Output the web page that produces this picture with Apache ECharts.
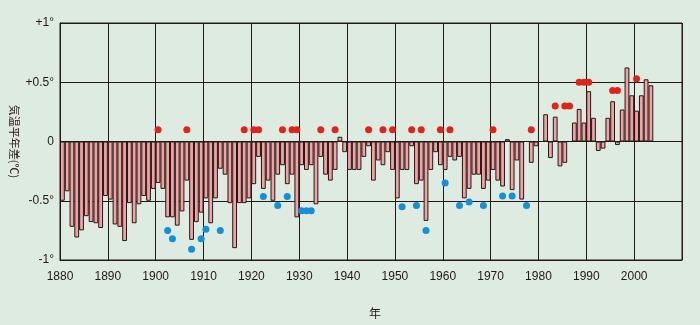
<!DOCTYPE html>
<html>
<head>
<meta charset="utf-8">
<script src="https://cdn.jsdelivr.net/npm/echarts@6/dist/echarts.min.js"></script>
<style>
html,body{margin:0;padding:0;background:#deebe1;}
#chart{width:700px;height:325px;}
</style>
</head>
<body>
<div id="chart"></div>
<script>
// ---- data ----
var startYear = 1880;
var endYear = 2010;
var anomalies = [
 -0.50,-0.42,-0.72,-0.81,-0.75,-0.63,-0.68,-0.69,-0.73,-0.46,
 -0.49,-0.70,-0.72,-0.84,-0.52,-0.69,-0.53,-0.46,-0.50,-0.40,
 -0.35,-0.40,-0.64,-0.64,-0.71,-0.59,-0.33,-0.83,-0.68,-0.60,
 -0.48,-0.69,-0.48,-0.23,-0.28,-0.52,-0.90,-0.52,-0.52,-0.48,
 -0.36,-0.13,-0.40,-0.33,-0.50,-0.28,-0.20,-0.36,-0.28,-0.64,
 -0.20,-0.24,-0.20,-0.53,-0.13,-0.28,-0.33,-0.24, 0.04,-0.09,
 -0.24,-0.24,-0.24,-0.13,-0.04,-0.33,-0.16,-0.20,-0.09,-0.24,
 -0.48,-0.24,-0.24,-0.04,-0.36,-0.33,-0.67,-0.24,-0.09,-0.20,
 -0.24,-0.13,-0.16,-0.13,-0.48,-0.40,-0.28,-0.28,-0.40,-0.33,
 -0.24,-0.33,-0.38, 0.02,-0.41,-0.16,-0.49, 0.00,-0.18,-0.04,
  0.00, 0.23,-0.14, 0.21,-0.21,-0.18, 0.00, 0.16, 0.275,0.16,
  0.425,0.20,-0.08,-0.06, 0.20, 0.34,-0.03, 0.27, 0.625,0.39,
  0.26, 0.39, 0.525,0.475
];
var warmYears  = [1900,1906,1918,1920,1921,1926,1928,1929,1934,1937,1944,1947,1949,1953,1955,1959,1961,1970,1978,1983,1985,1986,1988,1989,1990,1995,1996,2000];
var warmValues = [0.1,0.1,0.1,0.1,0.1,0.1,0.1,0.1,0.1,0.1,0.1,0.1,0.1,0.1,0.1,0.1,0.1,0.1,0.1,0.3,0.3,0.3,0.5,0.5,0.5,0.43,0.43,0.53];
var coldYears  = [1902,1903,1907,1909,1910,1913,1922,1925,1927,1930,1931,1932,1951,1954,1956,1960,1963,1965,1968,1972,1974,1977];
var coldValues = [-0.75,-0.82,-0.91,-0.82,-0.74,-0.75,-0.465,-0.54,-0.465,-0.585,-0.585,-0.585,-0.55,-0.54,-0.75,-0.35,-0.54,-0.51,-0.54,-0.46,-0.46,-0.54];
var yTickLabels = {'1':'+1°','0.5':'+0.5°','0':'0','-0.5':'-0.5°','-1':'-1°'};
var yAxisName = '気温平年差(℃)';
var xAxisName = '年';

// ---- build ----
var categories = [];
for (var y = startYear; y < endYear; y++) categories.push(String(y));
function pairs(xs, vs){ return xs.map(function(x,i){ return [String(x), vs[i]]; }); }

var ink = '#231815';
var chart = echarts.init(document.getElementById('chart'), null, {renderer:'canvas'});
chart.setOption({
  backgroundColor: '#deebe1',
  animation: false,
  grid: {left: 60, right: 18, top: 23, bottom: 65, containLabel: false, outerBoundsMode: 'none',
         show: true, borderColor: ink, borderWidth: 1, backgroundColor: 'transparent'},
  xAxis: [
    {type: 'category', data: categories, boundaryGap: true, show: false},
    {type: 'value', min: startYear, max: endYear, interval: 10, position: 'bottom',
     axisLine: {show: true, lineStyle: {color: ink, width: 1}},
     axisTick: {show: false},
     splitLine: {show: true, lineStyle: {color: ink, width: 1}},
     axisLabel: {color: ink, fontSize: 12, fontFamily: 'Liberation Sans', margin: 11,
       formatter: function(v){ return v >= endYear ? '' : String(v); }},
     name: xAxisName, nameLocation: 'middle', nameGap: 47, nameMoveOverlap: false,
     nameTextStyle: {color: ink, fontSize: 12, fontFamily: 'Noto Sans CJK JP', padding: [0, 0, 0, 8]}}
  ],
  yAxis: {type: 'value', min: -1, max: 1, interval: 0.5,
    axisLine: {show: true, lineStyle: {color: ink, width: 1}},
    axisTick: {show: false},
    splitLine: {show: true, lineStyle: {color: ink, width: 1}},
    axisLabel: {color: ink, fontSize: 12, fontFamily: 'Liberation Sans', margin: 6,
      formatter: function(v){ var k = String(v); return yTickLabels[k] !== undefined ? yTickLabels[k] : k; }},
    name: yAxisName, nameLocation: 'middle', nameGap: 40, nameRotate: -90, nameMoveOverlap: false,
    nameTextStyle: {color: ink, fontSize: 11, fontFamily: 'Noto Sans CJK JP'}
  },
  series: [
    {type: 'bar', xAxisIndex: 0, data: anomalies, barCategoryGap: '0%', barWidth: '100%',
     itemStyle: {color: '#f0a2a5', borderColor: ink, borderWidth: 1}, z: 2},
    {type: 'scatter', xAxisIndex: 0, data: pairs(warmYears, warmValues), symbol: 'circle', symbolSize: 7,
     itemStyle: {color: '#e0241c', opacity: 1}, z: 5},
    {type: 'scatter', xAxisIndex: 0, data: pairs(coldYears, coldValues), symbol: 'circle', symbolSize: 7,
     itemStyle: {color: '#1490d8', opacity: 1}, z: 5}
  ]
});
</script>
</body>
</html>
